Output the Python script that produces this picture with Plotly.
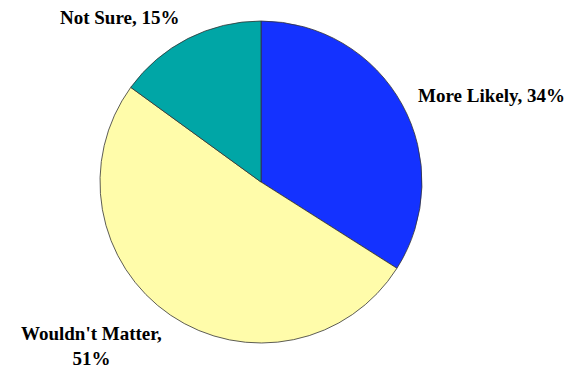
import plotly.graph_objects as go

labels = ["More Likely", "Wouldn't Matter", "Not Sure"]
values = [34, 51, 15]
colors = ["#1432FF", "#FFFCAA", "#00A6A6"]

W, H = 577, 368
cx, cy, r = 261, 182, 161

fig = go.Figure(go.Pie(
    labels=labels, values=values, sort=False, direction="clockwise", rotation=0,
    marker=dict(colors=colors, line=dict(color="#333333", width=0.8)),
    textinfo="none", hoverinfo="label+percent", showlegend=False,
    domain=dict(x=[(cx - r) / W, (cx + r) / W], y=[1 - (cy + r) / H, 1 - (cy - r) / H]),
))

font = dict(family="Liberation Serif, Times New Roman, serif", size=19, color="black")
ann_pos = {
    "More Likely": (491, 95),
    "Wouldn't Matter": (92, 346),
    "Not Sure": (119, 17),
}
for lab, val in zip(labels, values):
    x, y = ann_pos[lab]
    txt = f"{lab},<br>{val}%" if lab == "Wouldn't Matter" else f"{lab}, {val}%"
    fig.add_annotation(x=x / W, y=1 - y / H, xref="paper", yref="paper", text=f"<b>{txt}</b>",
                       showarrow=False, font=font, xanchor="center", yanchor="middle", align="center")

fig.update_layout(width=W, height=H, margin=dict(l=0, r=0, t=0, b=0),
                  paper_bgcolor="white", plot_bgcolor="white")
fig.write_html("out.html")
